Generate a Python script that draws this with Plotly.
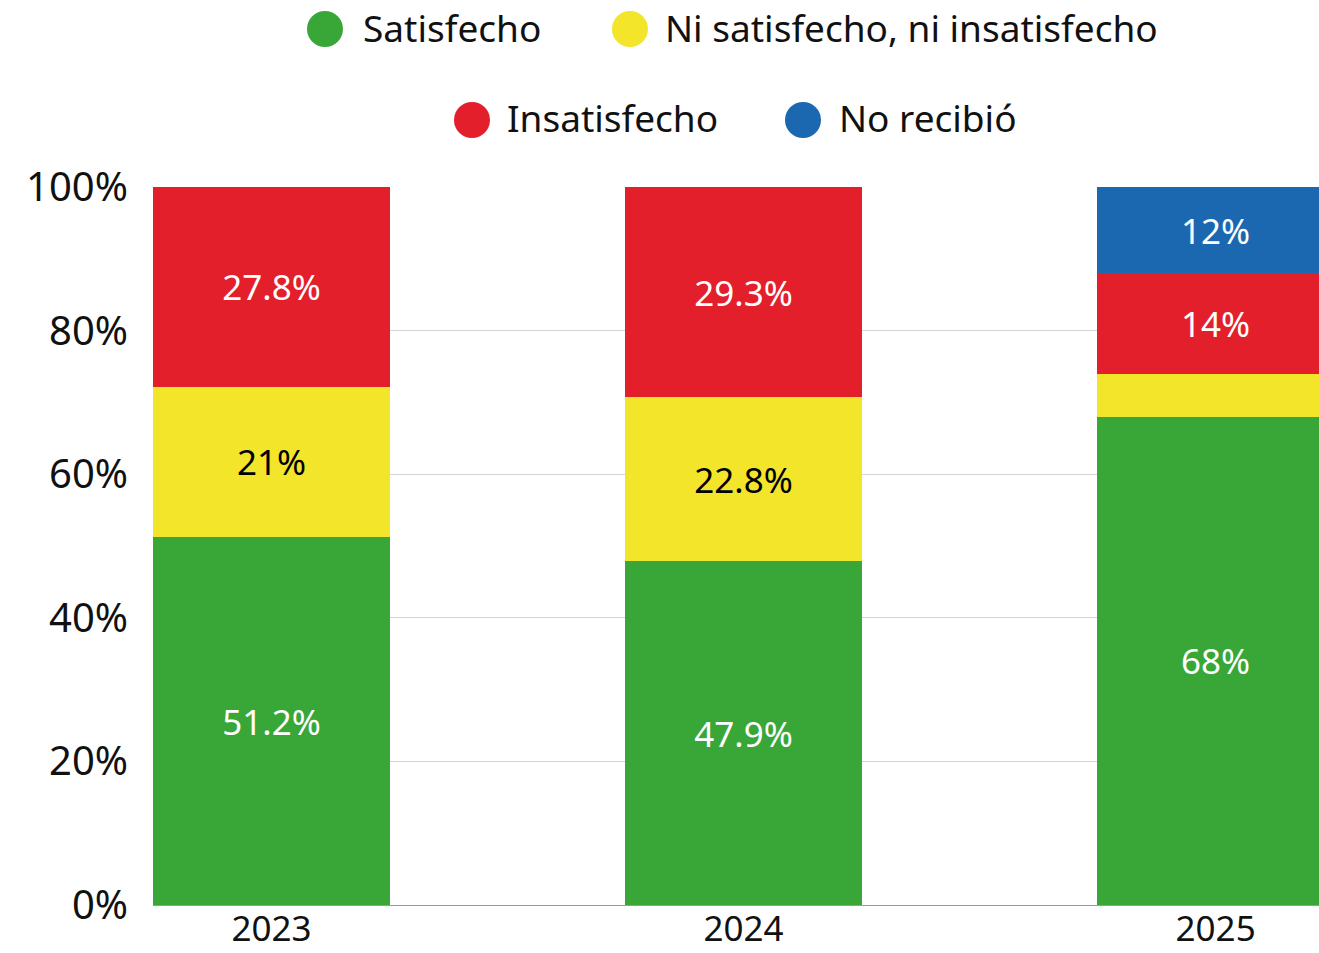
import plotly.graph_objects as go

years = ["2023", "2024", "2025"]
satisfecho = [51.2, 47.9, 68]
ni_ni = [21, 22.8, 6]
insatisfecho = [27.8, 29.3, 14]
no_recibio = [0, 0, 12]

labels_sat = ["51.2%", "47.9%", "68%"]
labels_ni = ["21%", "22.8%", ""]
labels_ins = ["27.8%", "29.3%", "14%"]
labels_no = ["", "", "12%"]

series_names = ["Satisfecho", "Ni satisfecho, ni insatisfecho", "Insatisfecho", "No recibió"]
colors = ["#38A737", "#F2E52A", "#E31F2B", "#1B68B0"]
text_colors = ["white", "black", "white", "white"]

y_ticks = [0, 20, 40, 60, 80, 100]
y_tick_labels = ["0%", "20%", "40%", "60%", "80%", "100%"]

FONT = "Noto Sans"

fig = go.Figure()
for name, vals, labs, col, tcol in zip(
    series_names,
    [satisfecho, ni_ni, insatisfecho, no_recibio],
    [labels_sat, labels_ni, labels_ins, labels_no],
    colors, text_colors,
):
    fig.add_trace(go.Bar(
        x=years, y=vals, name=name, marker=dict(color=col, line=dict(width=0)),
        text=labs, texttemplate="%{text}", textposition="inside",
        insidetextanchor="middle", textangle=0,
        textfont=dict(family=FONT, size=35, color=tcol),
        showlegend=False, hoverinfo="skip",
    ))

W, H = 1319, 953
ml, mr, mt, mb = 153, 0, 187, 48
pw, ph = W - ml - mr, H - mt - mb

def px_to_paper(x, y):
    return (x - ml) / pw, (H - mb - y) / ph

# Manual legend (circles + labels)
legend_items = [
    (325, 29, 361, 0),
    (630, 29, 663, 1),
    (472, 120, 505, 2),
    (803, 120, 837, 3),
]
shapes = []
annotations = []
for cx, cy, tx, i in legend_items:
    px, py = px_to_paper(cx, cy)
    shapes.append(dict(
        type="circle", xref="paper", yref="paper", xsizemode="pixel", ysizemode="pixel",
        xanchor=px, yanchor=py, x0=-18, x1=18, y0=-18, y1=18,
        fillcolor=colors[i], line=dict(width=0),
    ))
    ax, ay = px_to_paper(tx, cy - 2)
    annotations.append(dict(
        x=ax, y=ay, xref="paper", yref="paper", text=series_names[i], showarrow=False,
        xanchor="left", yanchor="middle", font=dict(family=FONT, size=37, color="#111"),
    ))

fig.update_layout(
    width=W, height=H,
    barmode="stack", bargap=0.498,
    plot_bgcolor="white", paper_bgcolor="white",
    margin=dict(l=ml, r=mr, t=mt, b=mb, pad=0, autoexpand=False),
    font=dict(family=FONT, size=34, color="#111"),
    shapes=shapes, annotations=annotations,
    xaxis=dict(
        type="category", range=[-0.251, 2.219], showgrid=False,
        showline=True, linecolor="#999", linewidth=1,
        tickfont=dict(family=FONT, size=35, color="#111"),
        ticks="", ticklabelstandoff=-7, automargin=False,
    ),
    yaxis=dict(
        range=[0, 100], tickvals=y_ticks, ticktext=y_tick_labels,
        showgrid=True, gridcolor="#d3d3d3", gridwidth=1, zeroline=False,
        showline=False, ticks="", ticklabelstandoff=24, automargin=False,
        tickfont=dict(family=FONT, size=40, color="#111"),
    ),
    uniformtext=dict(mode=None),
)

fig.write_html(
    "out.html",
    config={"displayModeBar": False},
    post_script="document.body.style.margin='0px';document.body.style.overflow='hidden';",
)
